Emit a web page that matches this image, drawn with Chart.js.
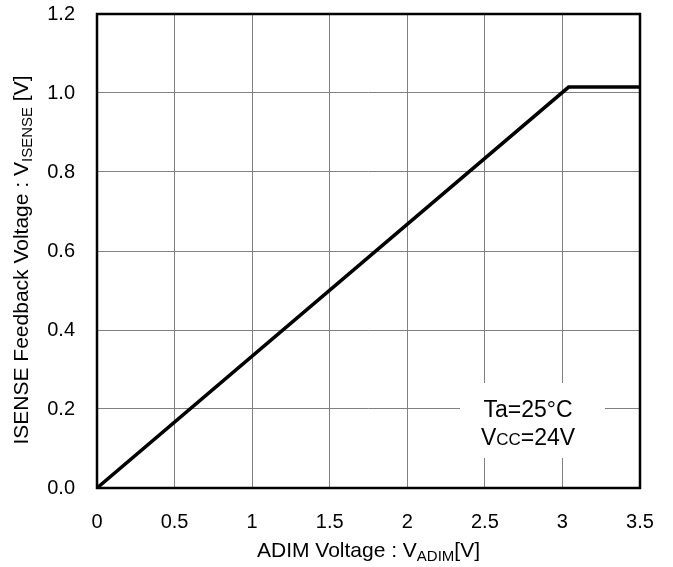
<!DOCTYPE html>
<html>
<head>
<meta charset="utf-8">
<script src="https://cdn.jsdelivr.net/npm/chart.js@4"></script>
<style>
  html, body { margin: 0; padding: 0; background: #fff; }
  #wrap { width: 673px; height: 567px; }
</style>
</head>
<body>
<div id="wrap"><canvas id="myChart" width="673" height="567"></canvas></div>
<script>
// ADIM voltage [V] vs ISENSE feedback voltage [V]
const adimVoltage = [0, 3.04, 3.5];
const isenseVoltage = [0, 1.015, 1.015];
const xTicks = [0, 0.5, 1, 1.5, 2, 2.5, 3, 3.5];
const yTicks = [0, 0.2, 0.4, 0.6, 0.8, 1.0, 1.2];
const noteLines = [
    [['Ta=25°C', 23]],
    [['V', 23], ['CC', 17], ['=24V', 23]]
];

const FONT = '"Liberation Sans", Arial, sans-serif';

// draws a run of text pieces [text, size, dy] starting at x
function drawRich(ctx, parts, x, y) {
    parts.forEach(p => {
        ctx.font = p[1] + 'px ' + FONT;
        ctx.fillText(p[0], x, y + (p[2] || 0));
        x += ctx.measureText(p[0]).width;
    });
}
function richWidth(ctx, parts) {
    let w = 0;
    parts.forEach(p => {
        ctx.font = p[1] + 'px ' + FONT;
        w += ctx.measureText(p[0]).width;
    });
    return w;
}

const decor = {
    id: 'decor',
    beforeDatasetsDraw(chart) {
        const ctx = chart.ctx;
        const a = chart.chartArea;
        // white box behind the conditions note
        ctx.save();
        ctx.fillStyle = '#fff';
        ctx.fillRect(a.right - 180, a.bottom - 105, 145, 75);
        ctx.restore();
    },
    afterDraw(chart) {
        const ctx = chart.ctx;
        const a = chart.chartArea;
        ctx.save();
        ctx.strokeStyle = '#000';
        ctx.lineWidth = 2.5;
        ctx.strokeRect(a.left, a.top, a.right - a.left, a.bottom - a.top);

        ctx.fillStyle = '#000';
        ctx.textBaseline = 'alphabetic';
        ctx.textAlign = 'left';
        // note
        let ny = a.bottom - 71;
        noteLines.forEach(line => {
            const w = richWidth(ctx, line);
            drawRich(ctx, line, 528 - w / 2, ny);
            ny += 28;
        });

        // x axis title
        const xt = [['ADIM Voltage : V', 21], ['ADIM', 15, 4], ['[V]', 21]];
        const xw = richWidth(ctx, xt);
        drawRich(ctx, xt, (a.left + a.right) / 2 - xw / 2, 557);

        // y axis title
        const yt = [['ISENSE Feedback Voltage : V', 21], ['ISENSE', 15, 4], [' [V]', 21]];
        const yw = richWidth(ctx, yt);
        ctx.translate(28, 260);
        ctx.rotate(-Math.PI / 2);
        drawRich(ctx, yt, -yw / 2, 0);
        ctx.restore();
    }
};

const ctx = document.getElementById('myChart').getContext('2d');
const myChart = new Chart(ctx, {
    type: 'scatter',
    data: {
        datasets: [{
            data: adimVoltage.map((v, i) => ({ x: v, y: isenseVoltage[i] })),
            showLine: true,
            borderColor: '#000',
            borderWidth: 3.5,
            pointRadius: 0,
            tension: 0
        }]
    },
    options: {
        responsive: false,
        animation: false,
        devicePixelRatio: 1,
        layout: { padding: { top: 13, right: 33, left: 0, bottom: 0 } },
        plugins: {
            legend: { display: false },
            tooltip: { enabled: false }
        },
        scales: {
            x: {
                type: 'linear',
                min: 0,
                max: 3.5,
                afterBuildTicks: s => { s.ticks = xTicks.map(v => ({ value: v })); },
                afterFit: s => { s.height = 79; },
                grid: { color: '#808080', lineWidth: 1, drawTicks: true, tickLength: 20, tickColor: 'rgba(0,0,0,0)' },
                border: { display: false },
                ticks: {
                    padding: 2,
                    color: '#000',
                    font: { family: FONT, size: 20 },
                    callback: v => String(v)
                }
            },
            y: {
                type: 'linear',
                min: 0,
                max: 1.2,
                afterBuildTicks: s => { s.ticks = yTicks.map(v => ({ value: v })); },
                afterFit: s => { s.width = 97; },
                grid: { color: '#808080', lineWidth: 1, drawTicks: true, tickLength: 20, tickColor: 'rgba(0,0,0,0)' },
                border: { display: false },
                ticks: {
                    padding: 2,
                    color: '#000',
                    font: { family: FONT, size: 20 },
                    callback: v => v.toFixed(1)
                }
            }
        }
    },
    plugins: [decor]
});
</script>
</body>
</html>
